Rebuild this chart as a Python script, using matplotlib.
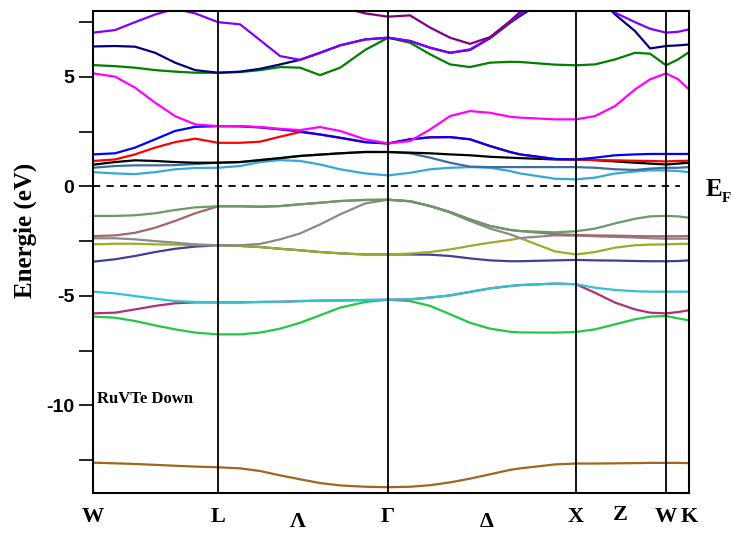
import matplotlib
matplotlib.use("Agg")
import matplotlib.pyplot as plt
from matplotlib.ticker import MultipleLocator

plt.rcParams["axes.unicode_minus"] = False

# k-path (units of 2pi/a along the path)
k = [0.000, 0.117, 0.223, 0.330, 0.436, 0.543, 0.665, 0.782, 0.888, 0.995,
     1.101, 1.207, 1.314, 1.447, 1.569, 1.686, 1.793, 1.899, 2.005, 2.112,
     2.218, 2.271, 2.457, 2.569, 2.670, 2.777, 2.883, 2.963, 3.048, 3.112, 3.170]

k_sym = [0.000, 0.665, 1.569, 2.569, 3.048, 3.170]
sym_labels = ["W", "L", "Γ", "X", "W", "K"]
mid_pos = [1.090, 2.096, 2.803]
mid_labels = ["Λ", "Δ", "Z"]

# bands in eV, lowest first
band_brown = [-12.62, -12.65, -12.68, -12.72, -12.76, -12.80, -12.83, -12.88, -13.00, -13.20,
              -13.38, -13.55, -13.66, -13.72, -13.74, -13.72, -13.65, -13.52, -13.35, -13.15,
              -12.95, -12.88, -12.70, -12.66, -12.66, -12.65, -12.64, -12.63, -12.63, -12.63, -12.64]
band_lgreen = [-5.95, -6.00, -6.15, -6.35, -6.53, -6.68, -6.76, -6.76, -6.68, -6.50,
               -6.23, -5.89, -5.54, -5.28, -5.18, -5.24, -5.46, -5.84, -6.23, -6.50,
               -6.64, -6.67, -6.68, -6.65, -6.53, -6.30, -6.07, -5.95, -5.92, -6.03, -6.12]
band_maroon = [-5.80, -5.77, -5.62, -5.46, -5.34, -5.30, -5.30, -5.30, -5.28, -5.27,
               -5.24, -5.22, -5.21, -5.19, -5.18, -5.16, -5.08, -4.98, -4.82, -4.66,
               -4.55, -4.51, -4.44, -4.47, -4.86, -5.31, -5.62, -5.77, -5.80, -5.74, -5.66]
band_cyan = [-4.81, -4.89, -5.01, -5.13, -5.24, -5.28, -5.30, -5.30, -5.28, -5.27,
             -5.24, -5.22, -5.21, -5.19, -5.18, -5.16, -5.08, -4.98, -4.82, -4.66,
             -4.55, -4.51, -4.44, -4.47, -4.63, -4.73, -4.79, -4.81, -4.81, -4.81, -4.81]
band_slate = [-3.44, -3.33, -3.18, -3.00, -2.85, -2.75, -2.69, -2.72, -2.77, -2.85,
              -2.92, -3.00, -3.06, -3.11, -3.11, -3.11, -3.12, -3.18, -3.29, -3.38,
              -3.42, -3.42, -3.38, -3.36, -3.38, -3.39, -3.41, -3.42, -3.42, -3.41, -3.38]
band_olive = [-2.65, -2.62, -2.62, -2.65, -2.66, -2.68, -2.69, -2.72, -2.77, -2.85,
              -2.92, -3.00, -3.06, -3.11, -3.11, -3.07, -3.00, -2.88, -2.72, -2.57,
              -2.45, -2.36, -2.97, -3.11, -3.00, -2.80, -2.69, -2.66, -2.65, -2.63, -2.62]
band_gray = [-2.37, -2.37, -2.42, -2.50, -2.57, -2.65, -2.69, -2.69, -2.63, -2.42,
             -2.15, -1.74, -1.28, -0.78, -0.61, -0.68, -0.90, -1.20, -1.58, -1.93,
             -2.19, -2.36, -2.24, -2.25, -2.28, -2.31, -2.34, -2.37, -2.39, -2.39, -2.39]
band_mauve = [-2.27, -2.24, -2.12, -1.89, -1.58, -1.23, -0.91, -0.91, -0.93, -0.90,
              -0.82, -0.75, -0.67, -0.62, -0.61, -0.68, -0.90, -1.17, -1.51, -1.81,
              -1.99, -2.04, -2.18, -2.22, -2.24, -2.25, -2.27, -2.28, -2.28, -2.28, -2.27]
band_ggreen = [-1.35, -1.35, -1.32, -1.23, -1.08, -0.96, -0.91, -0.91, -0.93, -0.90,
               -0.82, -0.75, -0.67, -0.62, -0.61, -0.68, -0.90, -1.17, -1.51, -1.81,
               -1.99, -2.04, -2.10, -2.05, -1.93, -1.69, -1.48, -1.37, -1.35, -1.37, -1.43]
band_lblue = [0.65, 0.59, 0.56, 0.65, 0.78, 0.84, 0.85, 0.93, 1.11, 1.20,
              1.16, 1.00, 0.78, 0.59, 0.50, 0.62, 0.78, 0.85, 0.88, 0.85,
              0.70, 0.59, 0.35, 0.32, 0.40, 0.59, 0.68, 0.73, 0.73, 0.70, 0.65]
band_steel = [0.85, 0.93, 0.96, 0.96, 0.97, 1.02, 1.08, 1.11, 1.20, 1.29,
              1.39, 1.45, 1.51, 1.57, 1.57, 1.51, 1.31, 1.08, 0.90, 0.88,
              0.88, 0.88, 0.88, 0.88, 0.85, 0.78, 0.75, 0.81, 0.85, 0.85, 0.88]
band_black = [0.99, 1.11, 1.19, 1.16, 1.11, 1.08, 1.08, 1.11, 1.20, 1.29,
              1.39, 1.45, 1.51, 1.57, 1.57, 1.54, 1.51, 1.46, 1.42, 1.35,
              1.31, 1.29, 1.23, 1.23, 1.20, 1.14, 1.08, 1.04, 1.00, 1.04, 1.08]
band_red = [1.16, 1.23, 1.46, 1.77, 2.02, 2.18, 1.99, 1.99, 2.04, 2.27,
            2.48, 2.37, 2.22, 2.02, 1.96, 2.15, 2.24, 2.25, 2.15, 1.84,
            1.57, 1.46, 1.25, 1.23, 1.20, 1.19, 1.17, 1.16, 1.14, 1.16, 1.17]
band_blue = [1.46, 1.51, 1.77, 2.15, 2.53, 2.72, 2.75, 2.74, 2.69, 2.60,
             2.51, 2.37, 2.22, 2.02, 1.96, 2.15, 2.24, 2.25, 2.15, 1.84,
             1.57, 1.46, 1.25, 1.23, 1.31, 1.42, 1.46, 1.48, 1.48, 1.48, 1.48]
band_magenta = [5.16, 5.01, 4.51, 3.82, 3.21, 2.83, 2.75, 2.75, 2.71, 2.63,
                2.57, 2.71, 2.53, 2.15, 1.96, 2.07, 2.60, 3.21, 3.44, 3.36,
                3.18, 3.14, 3.06, 3.06, 3.21, 3.67, 4.43, 4.89, 5.16, 4.89, 4.43]
band_green = [5.54, 5.49, 5.42, 5.31, 5.24, 5.19, 5.19, 5.22, 5.31, 5.45,
              5.42, 5.08, 5.42, 6.23, 6.79, 6.56, 6.03, 5.57, 5.45, 5.65,
              5.69, 5.68, 5.56, 5.53, 5.57, 5.80, 6.10, 6.06, 5.53, 5.80, 6.13]
band_navy = [6.39, 6.41, 6.38, 6.10, 5.65, 5.31, 5.19, 5.24, 5.37, 5.57,
             5.78, 6.10, 6.44, 6.71, 6.79, 6.64, 6.33, 6.10, 6.23, 6.77,
             7.47, 7.78, 8.80, 9.20, 8.80, 7.85, 7.09, 6.30, 6.41, 6.44, 6.48]
band_violet = [7.02, 7.14, 7.50, 7.85, 8.11, 7.90, 7.50, 7.40, 6.68, 5.95,
               5.78, 6.10, 6.44, 6.71, 6.79, 6.64, 6.33, 6.10, 6.26, 6.79,
               7.50, 7.85, 8.90, 9.30, 8.90, 7.93, 7.50, 7.20, 7.02, 7.06, 7.17]
band_purple = [8.60, 8.60, 8.60, 8.60, 8.60, 8.60, 8.60, 8.60, 8.60, 8.60,
               8.60, 8.60, 8.20, 7.90, 7.75, 7.81, 7.25, 6.79, 6.51, 6.82,
               7.55, 7.96, 8.60, 8.60, 8.60, 8.60, 8.60, 8.60, 8.60, 8.60, 8.60]

bands = [band_brown, band_lgreen, band_maroon, band_cyan, band_slate, band_olive,
         band_gray, band_mauve, band_ggreen, band_lblue, band_steel, band_black,
         band_red, band_blue, band_magenta, band_green, band_navy, band_violet,
         band_purple]
colors = ["#A0661F", "#22C844", "#B03078", "#2EC4D0", "#404098", "#A0AA28",
          "#8A8A8A", "#A06868", "#6A9A6A", "#35A8D8", "#3F6E9E", "#000000",
          "#FF0000", "#0000FF", "#FF00FF", "#008000", "#000080", "#8000FF",
          "#800080"]

fig = plt.figure(figsize=(7.33, 5.34), dpi=100)
ax = fig.add_axes([0.127, 0.077, 0.813, 0.902])

for b, c in zip(bands, colors):
    ax.plot(k, b, color=c, lw=1.6, solid_capstyle="round")

for ks in k_sym[1:-1]:
    ax.axvline(ks, color="black", lw=1.3)
ax.axhline(0, color="black", lw=1.3, ls=(0, (4, 3.5)), xmax=0.985)

ax.set_xlim(k_sym[0], k_sym[-1])
ax.set_ylim(-14, 8)

serif = "Liberation Serif"
ax.set_xticks(k_sym)
ax.set_xticklabels(sym_labels, fontsize=16, fontweight="bold", family=serif)
ax.tick_params(axis="x", length=0, pad=10)
for xm, lab in zip(mid_pos, mid_labels):
    yy = -0.060 if lab != "Z" else -0.046
    ax.text(xm, yy, lab, transform=ax.get_xaxis_transform(), ha="center", va="center",
            fontsize=16, fontweight="bold", family=serif)

ax.yaxis.set_major_locator(MultipleLocator(5))
ax.yaxis.set_minor_locator(MultipleLocator(2.5))
ax.tick_params(axis="y", which="both", direction="out", length=10, width=1.2)
for lab in ax.get_yticklabels():
    lab.set_fontweight("bold")
    lab.set_fontsize(14)
    lab.set_family("Liberation Sans")

fig.text(0.034, 1 - 230 / 534, "Energie (eV)", rotation=90, fontsize=18,
         fontweight="bold", family=serif, ha="center", va="center")

for s in ax.spines.values():
    s.set_linewidth(1.5)

ax.text(0.007, 0.195, "RuVTe Down", transform=ax.transAxes, fontsize=12,
        fontweight="bold", family=serif, va="center")
fig.text(706 / 733, 1 - 190 / 534, "E", fontsize=18, fontweight="bold",
         family=serif, va="center")
fig.text(722 / 733, 1 - 199 / 534, "F", fontsize=11, fontweight="bold",
         family=serif, va="center")

fig.savefig("out.png", dpi=100)
